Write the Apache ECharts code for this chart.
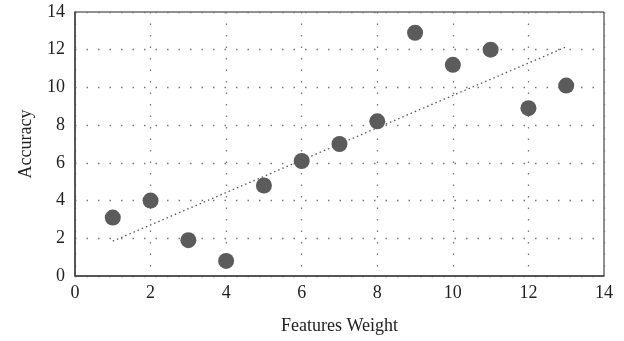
<!DOCTYPE html>
<html>
<head>
<meta charset="utf-8">
<script src="https://cdn.jsdelivr.net/npm/echarts@6/dist/echarts.min.js"></script>
<style>
  html, body { margin: 0; padding: 0; background: #fff; }
  #chart { width: 624px; height: 341px; }
</style>
</head>
<body>
<div id="chart"></div>
<script>
// features weight (x) and accuracy (y)
const weights = [1, 2, 3, 4, 5, 6, 7, 8, 9, 10, 11, 12, 13];
const accuracy = [3.1, 4.0, 1.9, 0.8, 4.8, 6.1, 7.0, 8.2, 12.9, 11.2, 12.0, 8.9, 10.1];
// dotted trend line end points
const trendX = [1, 13];
const trendY = [1.85, 12.15];

const font = '"Liberation Serif", "DejaVu Serif", serif';

const myChart = echarts.init(document.getElementById('chart'));
const option = {
  animation: false,
  backgroundColor: '#fff',
  grid: {
    left: 75, right: 20, top: 12, bottom: 65,
    outerBoundsMode: 'none',
    show: true,
    borderColor: '#222',
    borderWidth: 1
  },
  xAxis: {
    type: 'value',
    min: 0, max: 14, interval: 2,
    name: 'Features Weight',
    nameLocation: 'middle',
    nameGap: 41,
    nameTextStyle: { fontFamily: font, fontSize: 18, color: '#222' },
    axisLine: { show: true, lineStyle: { color: '#444', width: 1.5 } },
    axisTick: { show: false },
    axisLabel: { fontFamily: font, fontSize: 18, color: '#222', margin: 8 },
    splitLine: { show: true, lineStyle: { color: '#777', type: [1.5, 10], width: 1.3 } }
  },
  yAxis: {
    type: 'value',
    min: 0, max: 14, interval: 2,
    name: 'Accuracy',
    nameLocation: 'middle',
    nameGap: 40,
    nameTextStyle: { fontFamily: font, fontSize: 18, color: '#222' },
    axisLine: { show: true, lineStyle: { color: '#444', width: 1.5 } },
    axisTick: { show: false },
    axisLabel: { fontFamily: font, fontSize: 18, color: '#222', margin: 10 },
    splitLine: { show: true, lineStyle: { color: '#777', type: [1.5, 10], width: 1.3 } }
  },
  series: [
    {
      type: 'line',
      data: trendX.map((x, i) => [x, trendY[i]]),
      symbol: 'none',
      lineStyle: { color: '#555', width: 1.3, type: [1.5, 3] },
      silent: true,
      z: 2
    },
    {
      type: 'scatter',
      data: weights.map((x, i) => [x, accuracy[i]]),
      symbolSize: 16,
      itemStyle: { color: '#5b5b5b', opacity: 1 },
      z: 3
    }
  ]
};
myChart.setOption(option);
</script>
</body>
</html>
